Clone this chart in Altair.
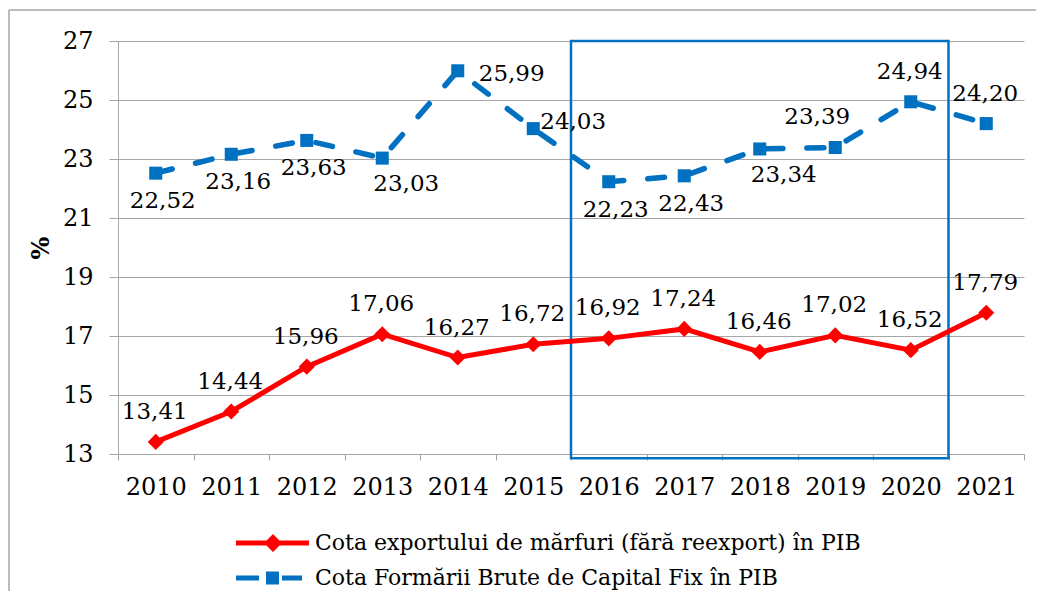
import altair as alt
import pandas as pd

years = list(range(2010, 2022))
export_share = [13.41, 14.44, 15.96, 17.06, 16.27, 16.72, 16.92, 17.24, 16.46, 17.02, 16.52, 17.79]
gfcf_share = [22.52, 23.16, 23.63, 23.03, 25.99, 24.03, 22.23, 22.43, 23.34, 23.39, 24.94, 24.20]
export_label_pos = ["above"] * 12
gfcf_label_pos = ["below", "below", "below", "belowright", "right", "rightup",
                  "below", "below", "belowright", "aboveleft", "above", "above"]
series_names = ["Cota exportului de mărfuri (fără reexport) în PIB",
                "Cota Formării Brute de Capital Fix în PIB"]
series_colors = ["#FF0000", "#0070C0"]
y_ticks = [13, 15, 17, 19, 21, 23, 25, 27]
highlight_from, highlight_to = 2015.5, 2020.5

FONT = "DejaVu Serif"
FS = 24
LFS = 23

rows = []
for i, yr in enumerate(years):
    rows.append({"year": yr, "value": export_share[i], "series": series_names[0],
                 "label": f"{export_share[i]:.2f}".replace(".", ","), "pos": export_label_pos[i]})
    rows.append({"year": yr, "value": gfcf_share[i], "series": series_names[1],
                 "label": f"{gfcf_share[i]:.2f}".replace(".", ","), "pos": gfcf_label_pos[i]})
df = pd.DataFrame(rows)

x_enc = alt.X("year:Q",
              scale=alt.Scale(domain=[2009.5, 2021.5], nice=False, zero=False),
              axis=alt.Axis(values=[y + 0.5 for y in range(2009, 2022)],
                            labelExpr="datum.value < 2021 ? '' + (datum.value + 0.5) : ''",
                            labelOffset=37.75, labelOverlap=False, labelFlush=False,
                            grid=False, tickSize=6, tickColor="#A6A6A6", domainColor="#A6A6A6",
                            labelFont=FONT, labelFontSize=FS, labelColor="#000000",
                            labelPadding=15, title=None))
y_enc = alt.Y("value:Q",
              scale=alt.Scale(domain=[13, 27], nice=False, zero=False),
              axis=alt.Axis(values=y_ticks, grid=True, gridColor="#A6A6A6", gridWidth=1.2,
                            tickSize=9, tickColor="#A6A6A6", domainColor="#A6A6A6",
                            labelFont=FONT, labelFontSize=FS, labelColor="#000000",
                            labelPadding=16, title="%", titleFont=FONT, titleFontSize=FS,
                            titleFontWeight="bold", titleColor="#000000", titlePadding=9))

base = alt.Chart(df)

red_line = base.transform_filter(alt.datum.series == series_names[0]).mark_line(
    color=series_colors[0], strokeWidth=5).encode(x=x_enc, y=y_enc)
blue_line = base.transform_filter(alt.datum.series == series_names[1]).mark_line(
    color=series_colors[1], strokeWidth=5.5, strokeDash=[17, 24], strokeCap="round").encode(x=x_enc, y=y_enc)
red_pts = base.transform_filter(alt.datum.series == series_names[0]).mark_point(
    shape="diamond", filled=True, size=260, color=series_colors[0], opacity=1).encode(x=x_enc, y=y_enc)
blue_pts = base.transform_filter(alt.datum.series == series_names[1]).mark_point(
    shape="square", filled=True, size=170, color=series_colors[1], opacity=1).encode(x=x_enc, y=y_enc)

offsets = {
    "above": (-1, -30, "center"),
    "below": (7, 28, "center"),
    "belowright": (24, 26, "center"),
    "right": (21, 3, "left"),
    "rightup": (7, -7, "left"),
    "aboveleft": (-18, -30, "center"),
}
label_layers = []
for pos, (dx, dy, align) in offsets.items():
    label_layers.append(
        base.transform_filter(alt.datum.pos == pos).mark_text(
            font=FONT, fontSize=LFS, color="#000000", dx=dx, dy=dy, align=align, baseline="middle"
        ).encode(x=x_enc, y=y_enc, text="label:N"))

hl_df = pd.DataFrame({"x0": [highlight_from], "x1": [highlight_to], "y0": [27], "y1": [12.86]})
highlight = alt.Chart(hl_df).mark_rect(fill=None, stroke="#0070C0", strokeWidth=2.5, clip=False).encode(
    x=alt.X("x0:Q"), x2="x1:Q", y=alt.Y("y0:Q"), y2="y1:Q")

# outer chart-area frame edges (decoration): top and left only, rest lies outside the picture
one = pd.DataFrame({"f": [0]})
frame_top = alt.Chart(one).mark_rule(color="#A6A6A6", strokeWidth=1.5).encode(
    x=alt.value(-109), x2=alt.value(918), y=alt.value(-31))
frame_left = alt.Chart(one).mark_rule(color="#A6A6A6", strokeWidth=1.5).encode(
    x=alt.value(-109), y=alt.value(-31), y2=alt.value(550))

path_red = "M-1,-0.25H6.3V0.25H-1Z M2.7,-0.9L3.6,0L2.7,0.9L1.8,0Z"
path_blue = "M-1,-0.25H1.3V0.25H-1Z M2.0,-0.65H3.3V0.65H2.0Z M3.6,-0.25H5.6V0.25H3.6Z"
leg_df = pd.DataFrame({"series": series_names})
legend = alt.Legend(orient="none", legendX=117, legendY=491, title=None, padding=0,
                    labelFont=FONT, labelFontSize=22, labelColor="#000000", labelOffset=58,
                    symbolSize=400, symbolStrokeWidth=0, symbolOpacity=1, rowPadding=13,
                    labelLimit=800)
legend_layer = alt.Chart(leg_df).mark_point(filled=True, opacity=0).encode(
    color=alt.Color("series:N", scale=alt.Scale(domain=series_names, range=series_colors), legend=legend),
    shape=alt.Shape("series:N", scale=alt.Scale(domain=series_names, range=[path_red, path_blue]), legend=legend),
)

chart = alt.layer(frame_top, frame_left, highlight, red_line, blue_line, red_pts, blue_pts,
                  *label_layers, legend_layer).properties(
    width=906, height=413,
    autosize=alt.AutoSizeParams(type="none"),
    padding={"left": 110, "top": 33, "right": 12, "bottom": 137},
    background="#FFFFFF",
).configure_view(stroke=None)

chart.save("out.html", embed_options={"renderer": "svg", "actions": False})
